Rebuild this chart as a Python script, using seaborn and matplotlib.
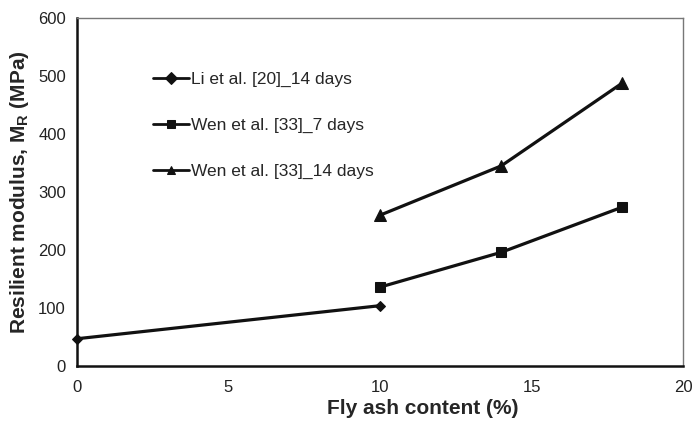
import matplotlib
matplotlib.use("Agg")
import matplotlib.pyplot as plt
import seaborn as sns
import pandas as pd

li_x = [0, 10]
li_y = [47, 104]
wen7_x = [10, 14, 18]
wen7_y = [136, 196, 274]
wen14_x = [10, 14, 18]
wen14_y = [260, 345, 488]
labels = ["Li et al. [20]_14 days", "Wen et al. [33]_7 days", "Wen et al. [33]_14 days"]

sns.set_style("white")
plt.rcParams['font.family'] = ['Liberation Sans', 'DejaVu Sans']
plt.rcParams['mathtext.fontset'] = 'custom'
plt.rcParams['mathtext.rm'] = 'Liberation Sans'
plt.rcParams['mathtext.bf'] = 'Liberation Sans:bold'
plt.rcParams['mathtext.it'] = 'Liberation Sans:italic'

df = pd.concat([
    pd.DataFrame({"x": li_x, "y": li_y, "s": labels[0]}),
    pd.DataFrame({"x": wen7_x, "y": wen7_y, "s": labels[1]}),
    pd.DataFrame({"x": wen14_x, "y": wen14_y, "s": labels[2]}),
])

fig = plt.figure(figsize=(6.93, 4.26), dpi=100)
ax = fig.add_axes([77/693, 60/426, 606/693, 348/426])

sns.lineplot(data=df, x="x", y="y", hue="s", style="s",
             palette=["#111111"] * 3, markers=["D", "s", "^"], dashes=False,
             markersize=7, linewidth=2.3, markeredgecolor="#111111", ax=ax, legend=True)
for l, ms in zip(ax.lines[:3], [5.5, 7.5, 8]):
    l.set_markersize(ms)
    l.set_clip_on(False)
    l.set_zorder(5)

ax.set_xlim(0, 20)
ax.set_ylim(0, 600)
ax.set_xticks([0, 5, 10, 15, 20])
ax.set_yticks([0, 100, 200, 300, 400, 500, 600])
ax.tick_params(axis='both', direction='out', length=5, width=1, labelsize=12, colors='#111111', labelcolor='#222222', pad=5)
ax.tick_params(axis='y', pad=3)
for sp in ['left', 'bottom']:
    ax.spines[sp].set_color('#111111')
    ax.spines[sp].set_linewidth(1.8)
for sp in ['top', 'right']:
    ax.spines[sp].set_color('#777777')
    ax.spines[sp].set_linewidth(1.0)

ax.set_xlabel("Fly ash content (%)", fontsize=15, fontweight='bold', labelpad=5)
ax.xaxis.set_label_coords((423 - 77) / 606, -0.095)
ax.set_ylabel(r"Resilient modulus, $\mathbf{M_R}$ (MPa)", fontsize=15, fontweight='bold', labelpad=5)

leg = ax.legend(loc='upper left', bbox_to_anchor=(0.105, 0.88), frameon=False,
                fontsize=12.5, handlelength=2.07, handletextpad=0.11, labelspacing=1.77, title=None,
                borderaxespad=0.3)
for h in leg.legend_handles:
    h.set_linewidth(2.0)
    h.set_markersize(6)

fig.savefig("out.png", dpi=100)
